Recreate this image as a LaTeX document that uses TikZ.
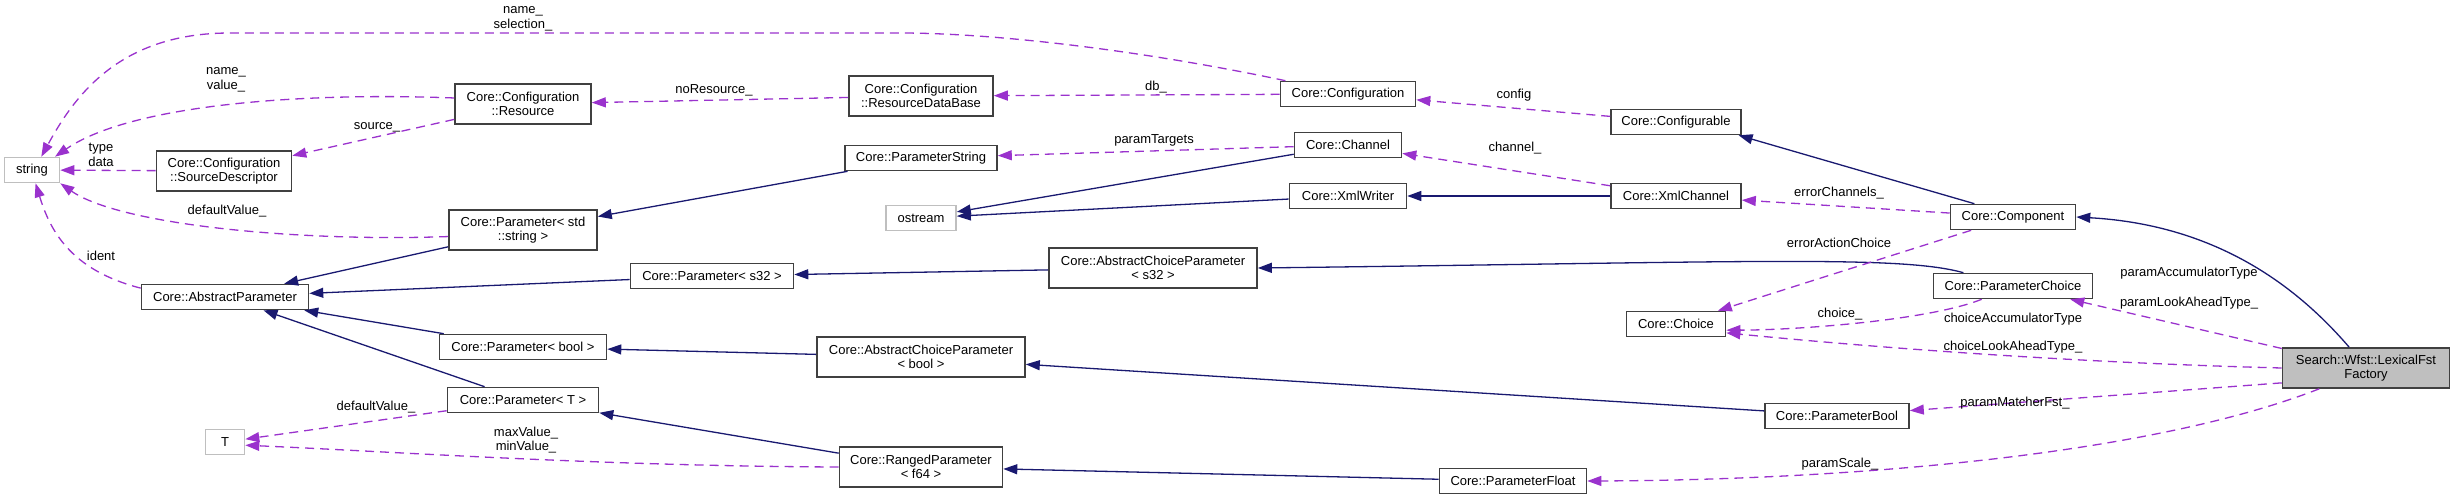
\documentclass[tikz,border=0pt]{standalone}
\usepackage{fontspec}
\setmainfont{Liberation Sans}
\usetikzlibrary{arrows.meta}

\definecolor{useline}{HTML}{9A32CD}
\definecolor{inhline}{HTML}{191970}
\definecolor{boxline}{HTML}{404040}
\definecolor{extline}{HTML}{BFBFBF}

\tikzset{
  cls/.style={draw=boxline, line width=1.6pt, fill=white, align=center,
    inner xsep=2pt, inner ysep=0pt, minimum height=25pt, minimum width=#1,
    font=\fontsize{13pt}{14.5pt}\selectfont},
  tall/.style={minimum height=40pt},
  ext/.style={cls=#1, draw=extline},
  mainbox/.style={cls=#1, fill=extline},
  uses/.style={draw=useline, line width=1.3pt, dash pattern=on 9pt off 6pt,
    -{Triangle[length=14pt,width=10pt]}},
  inherits/.style={draw=inhline, line width=1.3pt, -{Triangle[length=14pt,width=10pt]}},
  lbl/.style={font=\fontsize{13pt}{14.5pt}\selectfont, align=center, inner sep=0pt}
}

\begin{document}
\begin{tikzpicture}[x=1pt, y=-1pt]
  \useasboundingbox (0,0) rectangle (2455,500);

  % classes
  \node[ext=55] (str) at (32,170) {string};
  \node[cls=135, tall] (srcdesc) at (224,171) {Core::Configuration\\::SourceDescriptor};
  \node[cls=136, tall] (res) at (523,104) {Core::Configuration\\::Resource};
  \node[cls=148, tall] (parstd) at (523,230) {Core::Parameter< std\\::string >};
  \node[cls=167] (absparam) at (225,297) {Core::AbstractParameter};
  \node[ext=39] (tparam) at (225,442) {T};
  \node[cls=167] (parbool) at (523,347) {Core::Parameter< bool >};
  \node[cls=151] (parT) at (523,400) {Core::Parameter< T >};
  \node[cls=163] (pars32) at (712,276) {Core::Parameter< s32 >};
  \node[cls=144, tall] (resdb) at (921,96) {Core::Configuration\\::ResourceDataBase};
  \node[cls=152] (parstring) at (921,158) {Core::ParameterString};
  \node[ext=70] (ostr) at (921,218) {ostream};
  \node[cls=208, tall] (acpbool) at (921,357) {Core::AbstractChoiceParameter\\< bool >};
  \node[cls=163, tall] (ranged) at (921,467) {Core::RangedParameter\\< f64 >};
  \node[cls=208, tall] (acps32) at (1153,268) {Core::AbstractChoiceParameter\\< s32 >};
  \node[cls=135] (config) at (1348,94) {Core::Configuration};
  \node[cls=107] (chan) at (1348,145) {Core::Channel};
  \node[cls=117] (xmlw) at (1348,196) {Core::XmlWriter};
  \node[cls=147] (pfloat) at (1513,481) {Core::ParameterFloat};
  \node[cls=130] (cfgable) at (1676,122) {Core::Configurable};
  \node[cls=130] (xmlch) at (1676,196) {Core::XmlChannel};
  \node[cls=99] (choice) at (1676,324) {Core::Choice};
  \node[cls=144] (pboolcls) at (1837,416) {Core::ParameterBool};
  \node[cls=125] (comp) at (2013,217) {Core::Component};
  \node[cls=159] (pchoice) at (2013,286) {Core::ParameterChoice};
  \node[mainbox=167, tall] (lexfst) at (2366,368) {Search::Wfst::LexicalFst\\Factory};

  % inheritance
  \foreach \a/\b in {parstd/absparam, parstring/parstd, pars32/absparam, parbool/absparam,
      parT/absparam, acps32/pars32, acpbool/parbool, ranged/parT, chan/ostr,
      xmlw/ostr, xmlch/xmlw, pfloat/ranged}
    \draw[inherits] (\a) -- (\b);
  \draw[inherits] (comp.161) -- (cfgable.-12);
  \draw[inherits] (lexfst.129) .. controls (2300,290) and (2220,225) .. (comp.east);
  \draw[inherits] (pchoice.165) .. controls (1900,255) and (1750,262) .. (acps32.east);
  \draw[inherits] (pboolcls.176) -- (acpbool.-4);

  % usage (members)
  \draw[uses] (config.168) .. controls (1150,52) and (1000,33) .. (900,33) -- (230,33)
    .. controls (120,33) and (75,95) .. (str.55)
    node[lbl] (lNameSel) at (523,19) {name\_\\selection\_};
  \draw[uses] (res.175) .. controls (300,92) and (130,105) .. (str.30)
    node[lbl] (lNameVal) at (226,80) {name\_\\value\_};
  \draw[uses] (srcdesc) -- (str) node[lbl] (lTypeData) at (101,155) {type\\data};
  \draw[uses] (res) -- (srcdesc) node[lbl] (lSource) at (377,127) {source\_};
  \draw[uses] (parstd.185) .. controls (300,242) and (120,225) .. (str.south east)
    node[lbl] (lDefStr) at (227,211) {defaultValue\_};
  \draw[uses] (absparam.174) .. controls (70,270) and (50,230) .. (str.-75)
    node[lbl] (lIdent) at (101,256) {ident};
  \draw[uses] (resdb) -- (res) node[lbl] (lNoRes) at (714,90) {noResource\_};
  \draw[uses] (config) -- (resdb) node[lbl] (lDb) at (1156,87) {db\_};
  \draw[uses] (cfgable) -- (config) node[lbl] (lConfig) at (1514,95) {config};
  \draw[uses] (chan) -- (parstring) node[lbl] (lTargets) at (1154,140) {paramTargets};
  \draw[uses] (xmlch) -- (chan) node[lbl] (lChannel) at (1515,148) {channel\_};
  \draw[uses] (comp) -- (xmlch) node[lbl] (lErrCh) at (1839,193) {errorChannels\_};
  \draw[uses] (comp) -- (choice) node[lbl] (lErrAct) at (1839,243) {errorActionChoice};
  \draw[uses] (pchoice.203) .. controls (1930,320) and (1800,330) .. (choice.-7)
    node[lbl] (lChoice) at (1840,314) {choice\_};
  \draw[uses] (lexfst) -- (pchoice)
    node[lbl] (lParamTypes) at (2189,288) {paramAccumulatorType\\[15pt]paramLookAheadType\_};
  \draw[uses] (lexfst.west) .. controls (2050,362) and (1850,345) .. (choice.-10)
    node[lbl] (lChoiceTypes) at (2013,333) {choiceAccumulatorType\\[13.5pt]choiceLookAheadType\_};
  \draw[uses] (lexfst.190) -- (pboolcls) node[lbl] (lMatcher) at (2015,403) {paramMatcherFst\_};
  \draw[uses] (lexfst.204) .. controls (2150,455) and (1850,480) .. (pfloat.east)
    node[lbl] (lScale) at (1840,464) {paramScale\_};
  \draw[uses] (parT) -- (tparam) node[lbl] (lDefT) at (376,407) {defaultValue\_};
  \draw[uses] (ranged.west) .. controls (600,466) and (400,452) .. (tparam.-9)
    node[lbl] (lMinMax) at (526,440) {maxValue\_\\minValue\_};
\end{tikzpicture}
\end{document}
